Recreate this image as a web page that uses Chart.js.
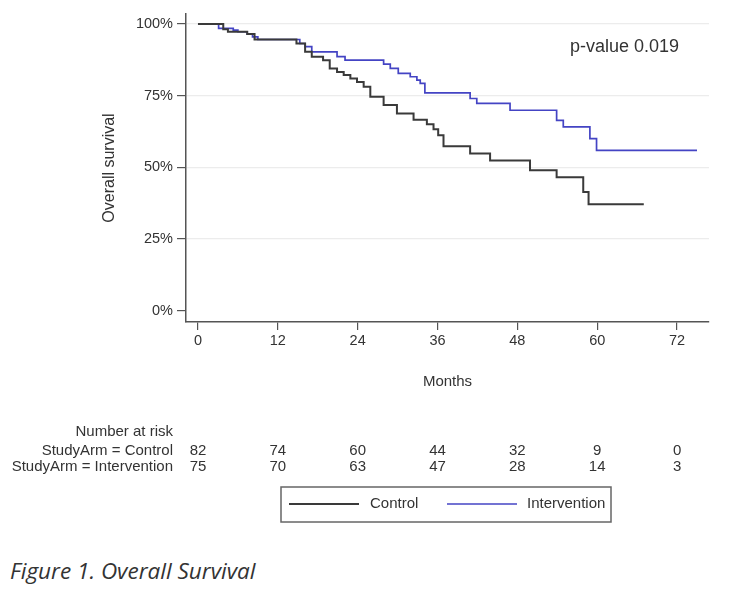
<!DOCTYPE html>
<html>
<head>
<meta charset="utf-8">
<script src="https://cdn.jsdelivr.net/npm/chart.js@4"></script>
<style>
  body { margin: 0; background: #fff; }
  #wrap { position: relative; width: 754px; height: 594px; }
  #chartBox { position: absolute; left: 0; top: 0; width: 754px; height: 540px; }
  #caption {
    position: absolute; left: 10px; top: 555px;
    font-family: "Open Sans", sans-serif; font-style: italic;
    font-size: 22.5px; color: #333;
  }
</style>
</head>
<body>
<div id="wrap">
  <div id="chartBox"><canvas id="kmChart"></canvas></div>
  <div id="caption">Figure 1. Overall Survival</div>
</div>
<script>
// Kaplan-Meier steps (months, survival %)
const controlMonths = [0, 3.8, 4.5, 7.4, 8.5, 14.8, 16.1, 17.1, 18.8, 19.8, 20.9, 21.9, 22.9, 23.9, 24.9, 25.9, 27.9, 29.9, 32.4, 34.4, 35.4, 36.1, 36.9, 40.9, 43.9, 49.9, 53.9, 57.9, 58.7, 67.0];
const controlSurvival = [100, 98.2, 97.3, 96.5, 94.6, 93.2, 90.3, 88.6, 87.4, 84.5, 83.3, 82.2, 81.0, 79.8, 78.1, 74.6, 71.7, 68.8, 66.6, 65.0, 63.3, 61.2, 57.3, 54.8, 52.4, 49.0, 46.5, 41.4, 37.1, 37.1];

const interventionMonths = [0, 3.1, 5.3, 6.0, 7.4, 8.2, 9.0, 15.3, 16.1, 17.1, 20.9, 22.1, 27.9, 28.9, 30.1, 31.9, 32.9, 33.4, 34.1, 40.9, 41.9, 46.9, 53.9, 54.9, 58.9, 59.9, 75.0];
const interventionSurvival = [100, 98.5, 97.9, 97.3, 96.5, 95.5, 94.6, 93.2, 92.1, 90.3, 88.6, 87.4, 86.0, 84.5, 82.8, 81.6, 80.4, 79.3, 76.0, 74.0, 72.3, 69.9, 66.4, 64.1, 60.0, 55.9, 55.9];

const xTicks = [0, 12, 24, 36, 48, 60, 72];
const yTicks = [0, 25, 50, 75, 100];

// number at risk table
const riskMonths = [0, 12, 24, 36, 48, 60, 72];
const riskControl = [82, 74, 60, 44, 32, 9, 0];
const riskIntervention = [75, 70, 63, 47, 28, 14, 3];
const riskLabels = ['StudyArm = Control', 'StudyArm = Intervention'];

const pValueText = 'p-value 0.019';

const FONT = '"Liberation Sans", Arial, sans-serif';
const TEXT = '#333';

function toPoints(months, surv) {
  return months.map((m, i) => ({ x: m, y: surv[i] }));
}

// draws p-value, risk table and boxed legend
const extrasPlugin = {
  id: 'extras',
  afterDraw(chart) {
    const ctx = chart.ctx;
    const xs = chart.scales.x;
    ctx.save();
    ctx.fillStyle = TEXT;

    // p-value
    ctx.font = '18px ' + FONT;
    ctx.textAlign = 'right';
    ctx.textBaseline = 'middle';
    ctx.fillText(pValueText, 679, 47);

    // risk table
    ctx.font = '15px ' + FONT;
    ctx.textAlign = 'right';
    ctx.fillText('Number at risk', 173, 432);
    ctx.fillText(riskLabels[0], 173, 451);
    ctx.fillText(riskLabels[1], 173, 467);
    ctx.textAlign = 'center';
    riskMonths.forEach((m, i) => {
      const px = xs.getPixelForValue(m);
      ctx.fillText(String(riskControl[i]), px, 451);
      ctx.fillText(String(riskIntervention[i]), px, 467);
    });

    // legend box
    ctx.strokeStyle = '#666';
    ctx.lineWidth = 1.5;
    ctx.strokeRect(281, 487, 330, 35);
    const items = [
      { x: 289, tx: 370 },
      { x: 447, tx: 527 }
    ];
    chart.data.datasets.forEach((ds, i) => {
      const it = items[i];
      ctx.strokeStyle = ds.borderColor;
      ctx.lineWidth = ds.borderWidth;
      ctx.beginPath();
      ctx.moveTo(it.x, 504);
      ctx.lineTo(it.x + 70, 504);
      ctx.stroke();
      ctx.fillStyle = TEXT;
      ctx.textAlign = 'left';
      ctx.fillText(ds.label, it.tx, 504);
    });
    ctx.restore();
  }
};

const ctx = document.getElementById('kmChart').getContext('2d');
new Chart(ctx, {
  type: 'line',
  data: {
    datasets: [
      {
        label: 'Control',
        data: toPoints(controlMonths, controlSurvival),
        borderColor: '#3a3a3a',
        borderWidth: 2,
        stepped: true,
        pointRadius: 0,
        fill: false
      },
      {
        label: 'Intervention',
        data: toPoints(interventionMonths, interventionSurvival),
        borderColor: '#4444c4',
        borderWidth: 1.7,
        stepped: true,
        pointRadius: 0,
        fill: false
      }
    ]
  },
  options: {
    responsive: true,
    maintainAspectRatio: false,
    animation: false,
    layout: {
      padding: { left: 100, top: 14, right: 45, bottom: 149 }
    },
    plugins: {
      legend: { display: false },
      tooltip: { enabled: false }
    },
    scales: {
      x: {
        type: 'linear',
        min: -1.8,
        max: 76.8,
        afterBuildTicks: (scale) => { scale.ticks = xTicks.map(v => ({ value: v })); },
        afterFit: (scale) => { scale.height = 69; },
        grid: { drawOnChartArea: false, tickLength: 8, tickColor: '#555', lineWidth: 1.2 },
        border: { color: '#555', width: 1.5 },
        ticks: { color: TEXT, font: { family: FONT, size: 14.5 }, padding: 2, maxRotation: 0 },
        title: { display: true, text: 'Months', color: TEXT, font: { family: FONT, size: 15 }, padding: 0 }
      },
      y: {
        min: -4,
        max: 103.5,
        afterBuildTicks: (scale) => { scale.ticks = yTicks.map(v => ({ value: v })); },
        afterFit: (scale) => { scale.width = 86; },
        grid: {
          color: (c) => (c.tick && c.tick.value === 0 ? 'rgba(0,0,0,0)' : '#ececec'),
          tickColor: '#555',
          tickLength: 9,
          lineWidth: 1.2
        },
        border: { color: '#555', width: 1.5 },
        ticks: { color: TEXT, font: { family: FONT, size: 14.5 }, padding: 4, callback: (v) => v + '%' },
        title: { display: true, text: 'Overall survival', color: TEXT, font: { family: FONT, size: 16 }, padding: 0 }
      }
    }
  },
  plugins: [extrasPlugin]
});
</script>
</body>
</html>
